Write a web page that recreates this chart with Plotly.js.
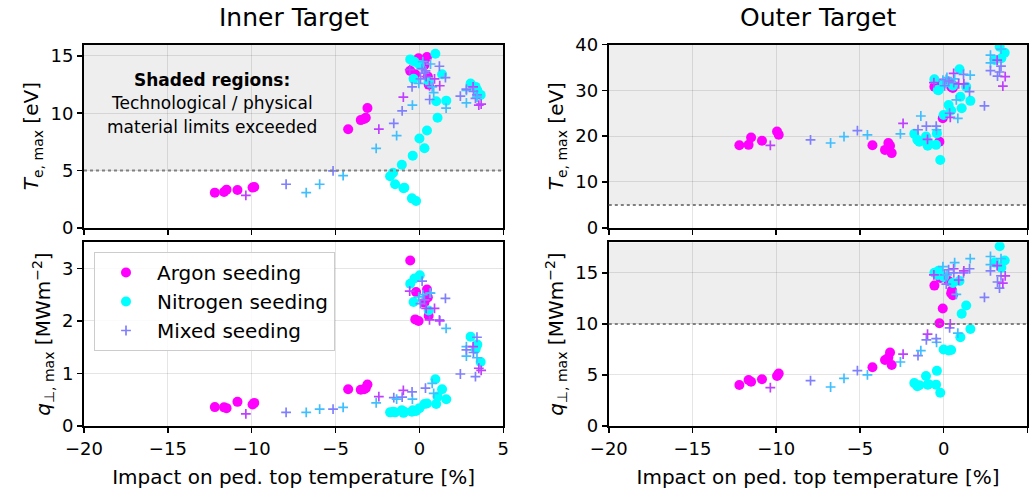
<!DOCTYPE html>
<html>
<head>
<meta charset="utf-8">
<script src="https://cdn.plot.ly/plotly-3.0.1.min.js"></script>
<style>html,body{margin:0;padding:0;background:#fff;}#chart{width:1029px;height:496px;}</style>
</head>
<body>
<div id="chart"></div>
<script>
// ---------------- data ----------------
const panelTitles = ["Inner Target", "Outer Target"];
const seriesNames = ["Argon seeding", "Nitrogen seeding", "Mixed seeding"];
const xTitle = "Impact on ped. top temperature [%]";
const teTitle = "<i>T</i><sub>e, max</sub> [eV]";
const qTitle = "<i>q</i><sub>\u22a5, max</sub> [MWm<sup>\u22122</sup>]";
const noteLines = ["<b>Shaded regions:</b>", "Technological / physical", "material limits exceeded"];

// limits (shaded above)
const teLimitInner = 5;
const teLimitOuter = 5;
const qLimitOuter = 10;

// Argon seeding
const argonX =        [-12.2, -11.65, -11.5, -10.85, -9.95, -9.85, -4.25, -3.5, -3.3, -3.2, -3.1, -0.55, -0.25, -0.05, -0.2, 0.45, 0.5, 0.55, 0.3];
const argonTeInner =  [3.07, 3.12, 3.33, 3.3, 3.51, 3.56, 8.6, 9.4, 9.5, 9.6, 10.45, 13.7, 13.4, 14.8, 14.6, 14.9, 13.2, 12.5, 14.2];
const argonQInner =   [0.36, 0.355, 0.34, 0.46, 0.41, 0.44, 0.70, 0.69, 0.70, 0.72, 0.79, 3.15, 2.03, 2.0, 2.55, 2.6, 2.45, 2.1, 2.35];
const argonTeOuter =  [18.0, 18.1, 19.7, 19.0, 21.0, 20.3, 18.0, 17.0, 18.5, 17.9, 16.3, 30.8, 18.8, 23.9, 31.5, 30.8, 31.2, 30.5, 31.8];
const argonQOuter =   [4.02, 4.51, 4.34, 4.58, 4.9, 5.13, 5.75, 6.47, 6.7, 7.2, 5.98, 13.75, 10.07, 11.5, 14.5, 13.0, 13.3, 12.8, 14.2];

// Nitrogen seeding
const nitroX =        [-1.75, -1.57, -1.45, -1.05, -0.95, -0.9, -0.45, -0.4, -0.2, 0.0, 0.3, 0.45, 1.0, 1.08, 1.35, 1.6, 0.95, -0.55, -0.35, -0.3, 0.02, 0.55, 3.05, 3.35, 3.65, 3.45];
const nitroTeInner =  [4.5, 4.8, 3.8, 5.5, 3.45, 3.5, 2.57, 6.3, 2.34, 7.8, 6.95, 8.5, 11.05, 9.6, 13.4, 11.1, 15.2, 14.7, 13.0, 14.5, 14.2, 12.8, 12.6, 12.3, 11.6, 12.0];
const nitroQInner =   [0.26, 0.27, 0.26, 0.30, 0.25, 0.27, 0.27, 0.30, 0.285, 0.34, 0.42, 0.43, 0.42, 0.56, 0.70, 0.51, 0.89, 2.71, 2.36, 2.81, 2.87, 2.2, 1.70, 1.46, 1.22, 1.55];
const nitroTeOuter =  [20.5, 19.2, 18.8, 19.9, 17.9, 18.5, 18.1, 20.6, 14.8, 24.6, 26.8, 25.6, 28.6, 26.1, 30.8, 27.7, 34.6, 32.4, 30.1, 30.0, 31.5, 31.0, 36.6, 39.5, 38.2, 37.0];
const nitroQOuter =   [4.2, 3.9, 4.0, 4.9, 4.05, 4.1, 4.05, 5.4, 3.25, 7.5, 7.4, 7.45, 8.7, 11.0, 11.8, 9.5, 14.2, 15.0, 14.8, 15.2, 14.6, 14.0, 16.0, 17.6, 16.2, 15.5];

// Mixed seeding (argonFraction = share of argon in the seed mix, sets colour)
const mixedX =        [-10.35, -7.95, -6.75, -5.95, -5.15, -4.55, -2.58, -2.42, -1.53, -1.36, -1.03, -0.96, -0.42,
                       -0.58, -0.44, -0.04, 0.06, 0.16, 0.2, 0.36, 0.4, 0.6, 0.61, 0.66, 0.76, 0.85, 0.9, 1.19, 1.21, 1.55, 1.59, 0.3,
                       2.44, 2.8, 2.8, 2.8, 3.2, 3.22, 3.43, 3.34, 3.43, 3.54, 3.68];
const mixedArgonFraction = [0.75, 0.5, 0.25, 0.25, 0.5, 0.25, 0.25, 0.75, 0.5, 0.25, 0.5, 0.75, 0.25,
                       0.75, 0.5, 0.25, 0.5, 0.5, 0.25, 0.5, 0.75, 0.75, 0.5, 0.25, 0.25, 0.25, 0.75, 0.5, 0.75, 0.5, 0.25, 0.5,
                       0.5, 0.25, 0.25, 0.5, 0.75, 0.5, 0.5, 0.5, 0.25, 0.75, 0.75];
const mixedTeInner =  [2.83, 3.8, 3.07, 3.8, 4.97, 4.56, 6.93, 8.62, 9.12, 8.04, 10.2, 11.4, 10.7,
                       13.8, 12.3, 12.6, 13.0, 13.9, 14.5, 13.7, 13.2, 12.4, 11.2, 14.3, 12.3, 11.8, 13.0, 14.1, 12.4, 13.1, 10.44, 13.5,
                       11.5, 10.9, 12.0, 12.1, 12.3, 11.9, 11.6, 11.3, 11.4, 10.7, 10.8];
const mixedQInner =   [0.23, 0.26, 0.26, 0.32, 0.32, 0.355, 0.44, 0.56, 0.54, 0.51, 0.55, 0.68, 0.51,
                       2.57, 0.65, 2.46, 2.33, 2.76, 2.5, 0.72, 2.24, 2.02, 2.53, 2.53, 0.81, 0.62, 2.24, 2.02, 2.0, 2.43, 1.86, 2.4,
                       0.99, 1.33, 1.51, 1.45, 1.51, 1.4, 1.69, 0.94, 1.3, 1.10, 1.06];
const mixedTeOuter =  [18.0, 19.2, 18.5, 19.9, 21.2, 20.3, 20.5, 22.8, 21.4, 24.4, 22.2, 19.3, 21.4,
                       31.7, 22.2, 32.2, 31.0, 32.4, 32.8, 25.0, 24.1, 33.7, 31.7, 32.5, 27.9, 23.9, 31.4, 33.5, 31.4, 29.7, 33.3, 32.0,
                       26.6, 37.7, 36.0, 34.3, 36.6, 33.1, 35.3, 34.0, 39.0, 30.9, 33.0];
const mixedQOuter =   [3.76, 4.45, 3.82, 4.67, 5.42, 5.0, 6.27, 7.03, 6.9, 7.39, 8.43, 8.99, 8.2,
                       14.8, 8.56, 15.6, 14.8, 13.9, 14.8, 9.6, 10.0, 15.4, 15.0, 16.0, 12.9, 9.1, 14.3, 15.0, 15.2, 15.4, 16.4, 15.3,
                       12.6, 16.6, 15.8, 15.2, 15.7, 14.1, 14.7, 13.5, 16.4, 14.0, 14.7];

const xTicks = [-20, -15, -10, -5, 0, 5];

// ---------------- styling ----------------
const FONT = "DejaVu Sans, sans-serif";
const TICK_SIZE = 18, LABEL_SIZE = 20, TITLE_SIZE = 25, NOTE_SIZE = 17;
const argonColor = "#ff00ff";
const nitroColor = "#00ffff";
const mixedLegendColor = "#8080ff";
function cool(f) { // matplotlib 'cool' colormap
  return "rgb(" + Math.round(255 * f) + "," + Math.round(255 * (1 - f)) + ",255)";
}
const mixedColors = mixedArgonFraction.map(cool);

const panels = [
  {xa: "x",  ya: "y",  ar: argonTeInner, ni: nitroTeInner, mi: mixedTeInner},
  {xa: "x2", ya: "y2", ar: argonTeOuter, ni: nitroTeOuter, mi: mixedTeOuter},
  {xa: "x3", ya: "y3", ar: argonQInner,  ni: nitroQInner,  mi: mixedQInner},
  {xa: "x4", ya: "y4", ar: argonQOuter,  ni: nitroQOuter,  mi: mixedQOuter}
];

const plusMarker = (c) => ({symbol: "cross-thin", size: 7, color: c, line: {color: c, width: 1.7}});

const traces = [];
panels.forEach(p => {
  traces.push({x: argonX, y: p.ar, xaxis: p.xa, yaxis: p.ya, type: "scatter", mode: "markers",
    marker: {color: argonColor, size: 10, symbol: "circle"}, showlegend: false, hoverinfo: "x+y"});
  traces.push({x: nitroX, y: p.ni, xaxis: p.xa, yaxis: p.ya, type: "scatter", mode: "markers",
    marker: {color: nitroColor, size: 10, symbol: "circle"}, showlegend: false, hoverinfo: "x+y"});
  traces.push({x: mixedX, y: p.mi, xaxis: p.xa, yaxis: p.ya, type: "scatter", mode: "markers",
    marker: plusMarker(mixedColors), showlegend: false, hoverinfo: "x+y"});
});
// legend entries
traces.push({x: [null], y: [null], xaxis: "x3", yaxis: "y3", type: "scatter", mode: "markers", name: seriesNames[0],
  marker: {color: argonColor, size: 10}});
traces.push({x: [null], y: [null], xaxis: "x3", yaxis: "y3", type: "scatter", mode: "markers", name: seriesNames[1],
  marker: {color: nitroColor, size: 10}});
traces.push({x: [null], y: [null], xaxis: "x3", yaxis: "y3", type: "scatter", mode: "markers", name: seriesNames[2],
  marker: plusMarker(mixedLegendColor)});

const W = 1029, H = 496;
const xdomL = [84 / W, 503.3 / W];
const xdomR = [608.8 / W, 1027.3 / W];
const ydomT = [(H - 227.8) / H, (H - 44.5) / H];
const ydomB = [(H - 426) / H, (H - 242.2) / H];

function xax(dom, anchor, withLabels) {
  const a = {domain: dom, anchor: anchor, range: [-20, 5], tickvals: xTicks,
    ticktext: xTicks.map(v => (v < 0 ? "\u2212" + Math.abs(v) : String(v))),
    showticklabels: withLabels, showline: true, mirror: true, linecolor: "#000", linewidth: 2,
    ticks: "outside", ticklen: 5, tickwidth: 1.5, tickcolor: "#000",
    showgrid: true, gridcolor: "rgba(0,0,0,0.1)", gridwidth: 1, zeroline: false,
    tickfont: {family: FONT, size: TICK_SIZE, color: "#000"}};
  if (withLabels) a.title = {text: xTitle, font: {family: FONT, size: LABEL_SIZE, color: "#000"}, standoff: 12};
  return a;
}
function yax(dom, anchor, range, dtick, title) {
  return {domain: dom, anchor: anchor, range: range, dtick: dtick, tick0: 0,
    showline: true, mirror: true, linecolor: "#000", linewidth: 2,
    ticks: "outside", ticklen: 5, tickwidth: 1.5, tickcolor: "#000",
    showgrid: true, gridcolor: "rgba(0,0,0,0.1)", gridwidth: 1, zeroline: false,
    tickfont: {family: FONT, size: TICK_SIZE, color: "#000"},
    title: {text: title, font: {family: FONT, size: LABEL_SIZE, color: "#000"}, standoff: 6}};
}

const yRangeTL = [0, 16], yRangeTR = [0, 40], yRangeBL = [0, 3.5], yRangeBR = [0, 18];

function shade(xa, ya, y0, y1) {
  return [
    {type: "rect", xref: xa + " domain", yref: ya, x0: 0, x1: 1, y0: y0, y1: y1,
      fillcolor: "#eeeeee", line: {width: 0}, layer: "below"},
    {type: "line", xref: xa + " domain", yref: ya, x0: 0, x1: 1, y0: y0, y1: y0,
      line: {color: "#808080", width: 2, dash: "dot"}, layer: "above"}
  ];
}

const layout = {
  width: W, height: H,
  margin: {l: 0, r: 0, t: 0, b: 0},
  paper_bgcolor: "#fff", plot_bgcolor: "rgba(0,0,0,0)",
  font: {family: FONT, color: "#000"},
  showlegend: true,
  legend: {x: 94 / W, y: (H - 252) / H, xanchor: "left", yanchor: "top",
    bgcolor: "rgba(255,255,255,0.85)", bordercolor: "#cccccc", borderwidth: 1,
    font: {family: FONT, size: LABEL_SIZE, color: "#000"}, itemwidth: 52, tracegroupgap: 0},
  xaxis: xax(xdomL, "y", false),
  xaxis2: xax(xdomR, "y2", false),
  xaxis3: xax(xdomL, "y3", true),
  xaxis4: xax(xdomR, "y4", true),
  yaxis: yax(ydomT, "x", yRangeTL, 5, teTitle),
  yaxis2: yax(ydomT, "x2", yRangeTR, 10, teTitle),
  yaxis3: yax(ydomB, "x3", yRangeBL, 1, qTitle),
  yaxis4: yax(ydomB, "x4", yRangeBR, 5, qTitle),
  shapes: [].concat(
    shade("x", "y", teLimitInner, yRangeTL[1]),
    shade("x2", "y2", teLimitOuter, yRangeTR[1]),
    shade("x4", "y4", qLimitOuter, yRangeBR[1])
  ),
  annotations: [
    {text: panelTitles[0], xref: "paper", yref: "paper", x: (xdomL[0] + xdomL[1]) / 2, y: (H - 18) / H,
      xanchor: "center", yanchor: "middle", showarrow: false, font: {family: FONT, size: TITLE_SIZE, color: "#000"}},
    {text: panelTitles[1], xref: "paper", yref: "paper", x: (xdomR[0] + xdomR[1]) / 2, y: (H - 18) / H,
      xanchor: "center", yanchor: "middle", showarrow: false, font: {family: FONT, size: TITLE_SIZE, color: "#000"}},
    {text: noteLines[0], xref: "x", yref: "y", x: -12.34, y: 12.92, showarrow: false,
      xanchor: "center", yanchor: "middle", font: {family: FONT, size: NOTE_SIZE, color: "#000"}},
    {text: noteLines[1], xref: "x", yref: "y", x: -12.34, y: 10.9, showarrow: false,
      xanchor: "center", yanchor: "middle", font: {family: FONT, size: NOTE_SIZE, color: "#000"}},
    {text: noteLines[2], xref: "x", yref: "y", x: -12.34, y: 8.8, showarrow: false,
      xanchor: "center", yanchor: "middle", font: {family: FONT, size: NOTE_SIZE, color: "#000"}}
  ]
};

Plotly.newPlot("chart", traces, layout, {displayModeBar: false, staticPlot: true});
</script>
</body>
</html>
